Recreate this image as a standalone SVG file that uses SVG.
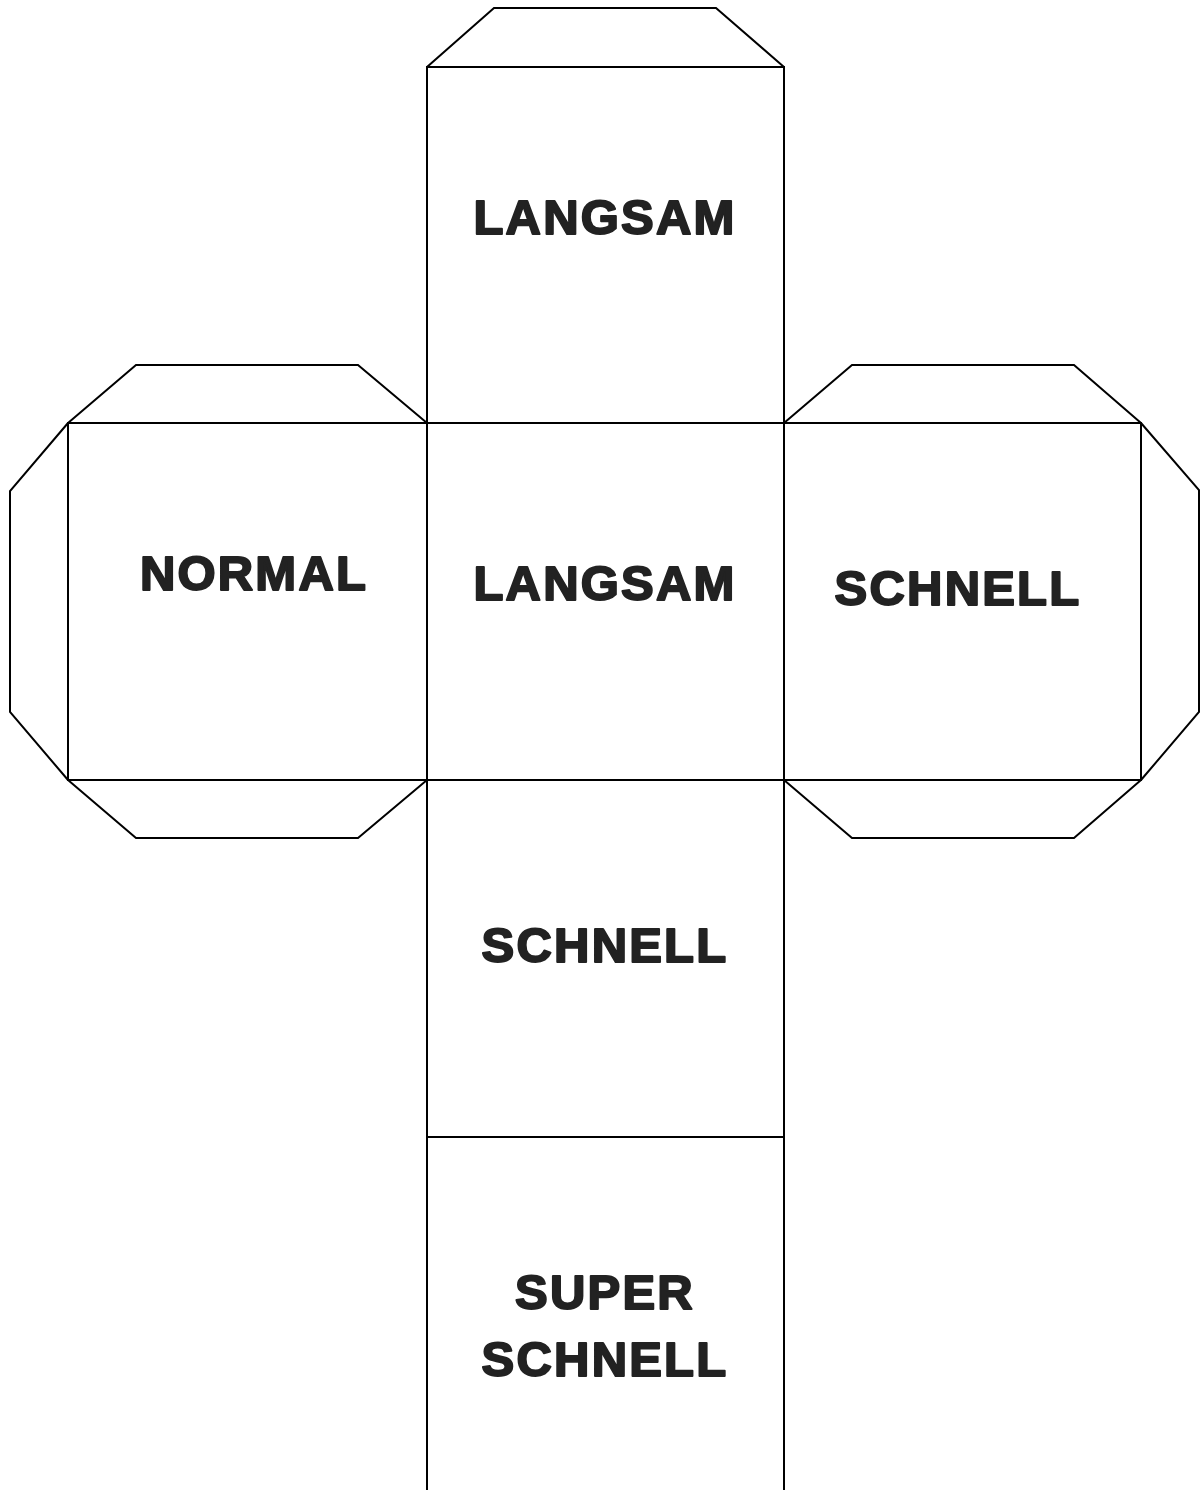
<svg xmlns="http://www.w3.org/2000/svg" width="1200" height="1490" viewBox="0 0 1200 1490">
<style>
.l{fill:none;stroke:#000;stroke-width:2;stroke-linejoin:miter}
.t{font-family:"Liberation Sans",Arial,sans-serif;font-weight:bold;font-size:49px;letter-spacing:2.2px;fill:#222;stroke:#222;stroke-width:2;stroke-linejoin:round;text-anchor:middle}
</style>
<rect width="1200" height="1490" fill="#fff"/>
<g id="connectors">
<polyline class="l" points="427,67 494,8 716,8 784,67"/>
<polyline class="l" points="68,423 136,365 358,365 427,423"/>
<polyline class="l" points="68,423 10,491 10,712 68,780"/>
<polyline class="l" points="68,780 136,838 358,838 427,780"/>
<polyline class="l" points="784,423 852,365 1074,365 1141,423"/>
<polyline class="l" points="1141,423 1199,490 1199,712 1141,780"/>
<polyline class="l" points="784,780 852,838 1074,838 1141,780"/>
</g>
<g id="face-top"><rect class="l" x="427" y="67" width="357" height="356"/><text class="t" x="605" y="234">LANGSAM</text></g>
<g id="face-left"><rect class="l" x="68" y="423" width="359" height="357"/><text class="t" x="254" y="590">NORMAL</text></g>
<g id="face-center"><rect class="l" x="427" y="423" width="357" height="357"/><text class="t" x="605" y="600">LANGSAM</text></g>
<g id="face-right"><rect class="l" x="784" y="423" width="357" height="357"/><text class="t" x="958" y="605">SCHNELL</text></g>
<g id="face-lower"><rect class="l" x="427" y="780" width="357" height="357"/><text class="t" x="605" y="962">SCHNELL</text></g>
<g id="face-bottom"><polyline class="l" points="427,1137 784,1137"/><polyline class="l" points="427,1137 427,1491"/><polyline class="l" points="784,1137 784,1491"/><text class="t" x="605" y="1309">SUPER</text><text class="t" x="605" y="1376">SCHNELL</text></g>
</svg>
